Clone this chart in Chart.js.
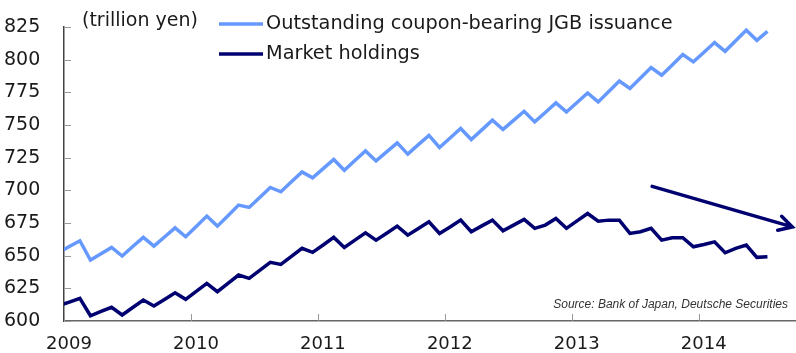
<!DOCTYPE html>
<html>
<head>
<meta charset="utf-8">
<script src="https://cdn.jsdelivr.net/npm/chart.js@4.4.0/dist/chart.umd.min.js"></script>
<style>
  html, body { margin: 0; padding: 0; background: #fff; }
  #wrap { width: 796px; height: 353px; position: relative; }
</style>
</head>
<body>
<div id="wrap"><canvas id="chart"></canvas></div>
<script>
// --- DATA ---
// monthly, Dec 2008 .. Jul 2014 (trillion yen)
const issuance = [
    652.5, 657.0, 661.4, 646.6, 651.5, 656.3, 649.7, 657.0, 664.0, 657.3, 664.3, 671.3, 664.5,
    672.4, 680.3, 672.6, 680.6, 688.7, 686.9, 694.5, 702.2, 698.9, 706.5, 714.1, 709.6,
    716.6, 723.6, 715.4, 722.8, 730.2, 722.5, 729.4, 736.3, 727.7, 735.0, 742.0, 732.8,
    740.0, 747.3, 738.9, 746.3, 753.7, 746.6, 753.5, 760.5, 752.4, 759.6, 766.9, 760.0,
    767.2, 774.5, 767.7, 775.7, 783.7, 777.9, 786.0, 794.0, 788.1, 796.0, 803.9, 798.3,
    805.7, 813.1, 806.4, 814.4, 822.5, 814.8, 821.7
];
const holdings = [
    611.6, 614.5, 617.4, 604.0, 607.3, 610.5, 604.6, 610.3, 616.0, 611.5, 616.5, 621.6, 616.6,
    622.7, 628.8, 622.4, 628.8, 635.2, 632.6, 638.8, 644.9, 643.3, 649.5, 655.6, 652.5,
    658.2, 664.0, 656.3, 661.9, 667.5, 661.9, 667.2, 672.6, 665.7, 670.8, 675.9, 667.0,
    672.0, 677.2, 668.3, 672.8, 677.2, 669.0, 673.4, 677.7, 670.9, 673.4, 678.5, 670.9,
    676.6, 682.3, 676.4, 677.2, 677.2, 667.0, 668.3, 670.9, 661.9, 663.7, 663.7, 656.8,
    658.6, 660.6, 652.2, 655.6, 658.1, 648.7, 649.2
];
const firstYear = 2008, firstMonth = 12;
const yearLabels = ['2009', '2010', '2011', '2012', '2013', '2014'];
const yTicks = [600, 625, 650, 675, 700, 725, 750, 775, 800, 825];
const seriesNames = ['Outstanding coupon-bearing JGB issuance', 'Market holdings'];
const unitLabel = '(trillion yen)';
const sourceNote = 'Source: Bank of Japan, Deutsche Securities';
// trend arrow, in data units (months since Jan 2009, value)
const arrowFrom = [55.6, 703];
const arrowTo = [68.85, 672];

const LIGHT = '#6699ff';
const DARK = '#000070';
const FONT = '"DejaVu Sans", sans-serif';

// x position = month midpoint, Jan 2009 = 0.5
const xOf = i => (firstYear - 2009) * 12 + (firstMonth - 1) + i + 0.5;
const toPoints = arr => arr.map((v, i) => ({ x: xOf(i), y: v }));

// --- PLUGIN: inner ticks, legend, notes, arrow ---
const extras = {
    id: 'extras',
    afterDatasetsDraw(chart) {
        const { ctx, chartArea, scales } = chart;
        const xs = scales.x, ys = scales.y;
        ctx.save();

        // inward tick marks
        ctx.strokeStyle = '#999';
        ctx.lineWidth = 1;
        yTicks.forEach(v => {
            const y = Math.round(ys.getPixelForValue(v)) + 0.5;
            ctx.beginPath();
            ctx.moveTo(chartArea.left, y);
            ctx.lineTo(chartArea.left + 7, y);
            ctx.stroke();
        });
        yearLabels.forEach((_, k) => {
            const x = Math.round(xs.getPixelForValue(k * 12)) + 0.5;
            ctx.beginPath();
            ctx.moveTo(x, chartArea.bottom);
            ctx.lineTo(x, chartArea.bottom - 7);
            ctx.stroke();
        });

        // arrow
        const x1 = xs.getPixelForValue(arrowFrom[0]), y1 = ys.getPixelForValue(arrowFrom[1]);
        const x2 = xs.getPixelForValue(arrowTo[0]), y2 = ys.getPixelForValue(arrowTo[1]);
        const ang = Math.atan2(y2 - y1, x2 - x1);
        ctx.strokeStyle = DARK;
        ctx.lineWidth = 3.5;
        ctx.lineCap = 'round';
        ctx.beginPath();
        ctx.moveTo(x1, y1);
        ctx.lineTo(x2, y2);
        ctx.moveTo(x2 - 15 * Math.cos(ang - 0.5), y2 - 15 * Math.sin(ang - 0.5));
        ctx.lineTo(x2, y2);
        ctx.lineTo(x2 - 15 * Math.cos(ang + 0.5), y2 - 15 * Math.sin(ang + 0.5));
        ctx.stroke();

        // legend
        ctx.lineCap = 'butt';
        ctx.font = '19.3px ' + FONT;
        ctx.textBaseline = 'middle';
        ctx.textAlign = 'left';
        chart.data.datasets.forEach((ds, i) => {
            const y = 24 + i * 30;
            ctx.strokeStyle = ds.borderColor;
            ctx.lineWidth = 3.5;
            ctx.beginPath();
            ctx.moveTo(219, y);
            ctx.lineTo(263, y);
            ctx.stroke();
            ctx.fillStyle = '#1a1a1a';
            ctx.fillText(ds.label, 266, y);
        });

        // unit label
        ctx.font = '19px ' + FONT;
        ctx.fillText(unitLabel, 82, 21);

        // source
        ctx.font = 'italic 12px "Liberation Sans", Arial, sans-serif';
        ctx.textAlign = 'right';
        ctx.fillStyle = '#333';
        ctx.fillText(sourceNote, 788, 305);

        ctx.restore();
    }
};

new Chart(document.getElementById('chart'), {
    type: 'line',
    data: {
        datasets: [
            { label: seriesNames[0], data: toPoints(issuance), borderColor: LIGHT, borderWidth: 3.5 },
            { label: seriesNames[1], data: toPoints(holdings), borderColor: DARK, borderWidth: 3.5 }
        ]
    },
    options: {
        responsive: true,
        maintainAspectRatio: false,
        animation: false,
        layout: { padding: { top: 27, right: 0, left: 4, bottom: 0 } },
        elements: {
            point: { radius: 0, hoverRadius: 0 },
            line: { tension: 0, borderJoinStyle: 'miter', fill: false }
        },
        plugins: {
            legend: { display: false },
            tooltip: { enabled: false }
        },
        scales: {
            x: {
                type: 'linear',
                min: 0,
                max: 69.2,
                afterBuildTicks: s => { s.ticks = yearLabels.map((_, k) => ({ value: k * 12 })); },
                afterFit: s => { s.height = 32; },
                grid: { drawOnChartArea: false, drawTicks: false },
                border: { display: true, color: '#666', width: 1.5 },
                ticks: {
                    autoSkip: false,
                    maxRotation: 0,
                    padding: 13,
                    labelOffset: 5,
                    color: '#1a1a1a',
                    font: { family: FONT, size: 18 },
                    callback: v => yearLabels[v / 12]
                }
            },
            y: {
                min: 600,
                max: 825,
                afterBuildTicks: s => { s.ticks = yTicks.map(v => ({ value: v })); },
                afterFit: s => { s.width = 60; },
                grid: { drawOnChartArea: false, drawTicks: false },
                border: { display: true, color: '#444', width: 1.5 },
                ticks: {
                    padding: 0,
                    crossAlign: 'far',
                    color: '#1a1a1a',
                    font: { family: FONT, size: 19 }
                }
            }
        }
    },
    plugins: [extras]
});
</script>
</body>
</html>
